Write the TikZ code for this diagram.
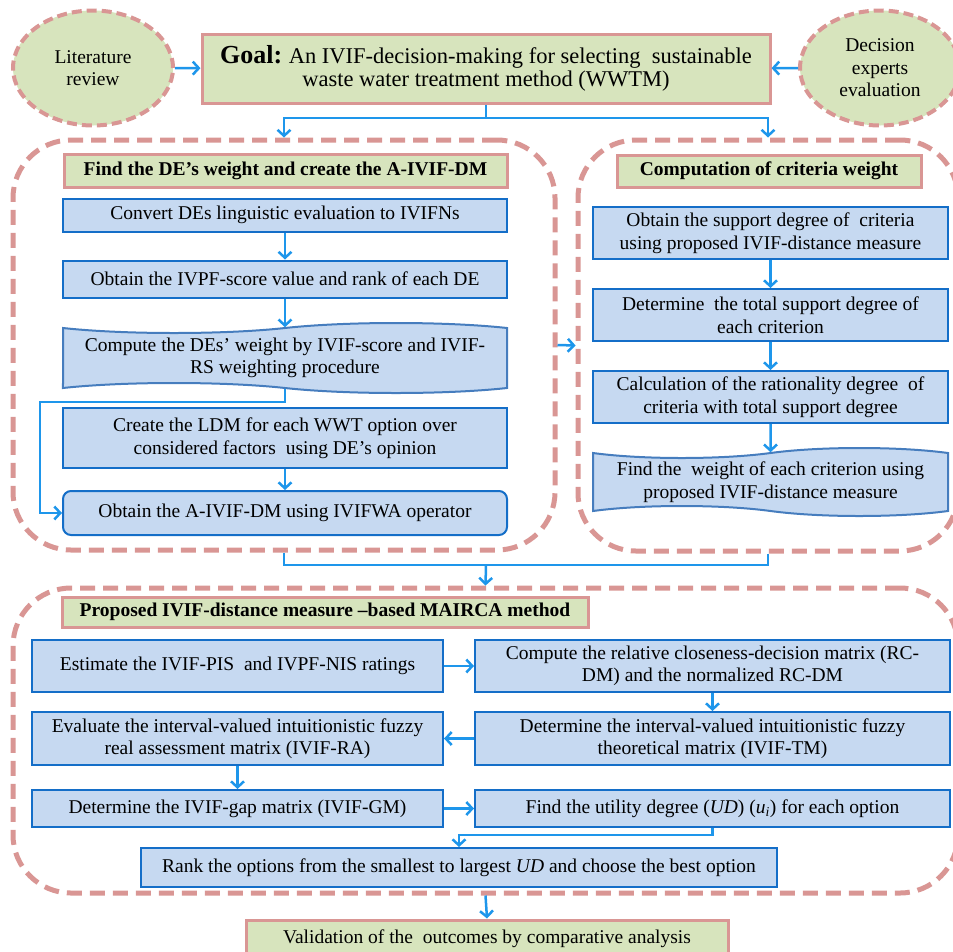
\documentclass[tikz,border=0pt]{standalone}
\usepackage{fontspec}
\setmainfont{Liberation Serif}
\usetikzlibrary{shapes,arrows.meta}

\definecolor{pinkline}{RGB}{217,150,148}
\definecolor{sage}{RGB}{215,228,189}
\definecolor{boxfill}{RGB}{198,217,241}
\definecolor{boxline}{RGB}{20,110,200}
\definecolor{tapeline}{RGB}{70,125,190}
\definecolor{arrowblue}{RGB}{30,150,235}

\begin{document}
\begin{tikzpicture}[x=1pt,y=-1pt]
\tikzset{
  every node/.style={font=\fontsize{19.5}{22.5}\selectfont,align=center,inner sep=0pt},
  goal/.style={draw=pinkline,fill=sage,line width=3pt},
  heading/.style={goal,font=\fontsize{19.5}{22.5}\selectfont\bfseries},
  source/.style={ellipse,draw=pinkline,fill=sage,line width=4pt,dash pattern=on 10pt off 5pt,
    minimum width=160pt,minimum height=115pt},
  group/.style={draw=pinkline,line width=5pt,dash pattern=on 15pt off 8pt,rounded corners=58pt},
  stepbox/.style={draw=boxline,fill=boxfill,line width=2pt},
  tapebox/.style={tape,stepbox,draw=tapeline,tape bend top=in and out,tape bend bottom=out and in,tape bend height=10pt},
  flow/.style={-{Straight Barb[length=6pt,width=13pt]},draw=arrowblue,line width=2.5pt},
  link/.style={draw=arrowblue,line width=2.5pt}
}
\useasboundingbox (0,0) rectangle (953,951);
\clip (0,0) rectangle (953,951);

%GOAL
\node[source] (LIT) at (93,68) {Literature\\review};
\node[goal,minimum width=568pt,minimum height=69pt] (GOAL) at (486,68.5)
  {{\fontsize{26}{28}\selectfont\bfseries Goal:} {\fontsize{22.5}{26}\selectfont An IVIF-decision-making for selecting\ \ sustainable}\\
   {\fontsize{22.5}{26}\selectfont waste water treatment method (WWTM)}};
\node[source] (DE) at (880,68) {Decision\\experts\\evaluation};

%GROUPS
\node[group,minimum width=542pt,minimum height=410pt] (LEFT) at (284,345) {};
\node[group,minimum width=380pt,minimum height=411pt] (RIGHT) at (768,345.5) {};
\node[group,minimum width=945pt,minimum height=305pt] (BOTTOM) at (485.5,740.5) {};

%DE WEIGHT
\node[heading,minimum width=443pt,minimum height=33pt] (LTITLE) at (285.5,170.5) {Find the DE’s weight and create the A-IVIF-DM};
\node[stepbox,minimum width=444pt,minimum height=33pt] (CONV) at (285,215) {Convert DEs linguistic evaluation to IVIFNs};
\node[stepbox,minimum width=444pt,minimum height=37pt] (SCORE) at (285,279) {Obtain the IVPF-score value and rank of each DE};
\node[tapebox,minimum width=444pt,minimum height=70pt] (DEW) at (285,358)
  {Compute the DEs’ weight by IVIF-score and IVIF-\\RS weighting procedure};
\node[stepbox,minimum width=444pt,minimum height=60pt] (LDM) at (285,438)
  {Create the LDM for each WWT option over\\considered factors\ \ using DE’s opinion};
\node[stepbox,rounded corners=8pt,minimum width=444pt,minimum height=44pt] (AGG) at (285,513)
  {Obtain the A-IVIF-DM using IVIFWA operator};

%CRITERIA WEIGHT
\node[heading,minimum width=304pt,minimum height=32pt] (RTITLE) at (769,171) {Computation of criteria weight};
\node[stepbox,minimum width=355pt,minimum height=52pt] (SUP) at (770.5,233)
  {Obtain the support degree of\ \ criteria\\using proposed IVIF-distance measure};
\node[stepbox,minimum width=355pt,minimum height=52pt] (TOT) at (770.5,315)
  {Determine\ \ the total support degree of\\each criterion};
\node[stepbox,minimum width=355pt,minimum height=52pt] (RAT) at (770.5,397)
  {Calculation of the rationality degree\ \ of\\criteria with total support degree};
\node[tapebox,minimum width=355pt,minimum height=68pt] (CW) at (770.5,482)
  {Find the\ \ weight of each criterion using\\proposed IVIF-distance measure};

%MAIRCA
\node[heading,minimum width=526pt,minimum height=30pt] (BTITLE) at (325,612) {Proposed IVIF-distance measure --based MAIRCA method};
\node[stepbox,minimum width=411pt,minimum height=52pt] (EST) at (237.5,666) {Estimate the IVIF-PIS\ \ and IVPF-NIS ratings};
\node[stepbox,minimum width=475pt,minimum height=52pt] (RC) at (712.5,666)
  {Compute the relative closeness-decision matrix (RC-\\DM) and the normalized RC-DM};
\node[stepbox,minimum width=411pt,minimum height=53pt] (REAL) at (237.5,738.5)
  {Evaluate the interval-valued intuitionistic fuzzy\\real assessment matrix (IVIF-RA)};
\node[stepbox,minimum width=475pt,minimum height=53pt] (THEO) at (712.5,738.5)
  {Determine the interval-valued intuitionistic fuzzy\\theoretical matrix (IVIF-TM)};
\node[stepbox,minimum width=411pt,minimum height=37pt] (GAP) at (237.5,808.5) {Determine the IVIF-gap matrix (IVIF-GM)};
\node[stepbox,minimum width=475pt,minimum height=37pt] (UTIL) at (712.5,808.5)
  {Find the utility degree (\textit{UD}) (\textit{u}\textsubscript{\textit{i}}) for each option};
\node[stepbox,minimum width=636pt,minimum height=39pt] (RANK) at (459,867.5)
  {Rank the options from the smallest to largest \textit{UD} and choose the best option};
\node[goal,minimum width=482pt,minimum height=38pt] (VALID) at (487,939) {Validation of the\ \ outcomes by comparative analysis};

%PATHS
\coordinate (split) at (486,118);
\coordinate (merge) at (486,565);
\coordinate (loop) at (40,402);
\draw[flow] (LIT) -- (GOAL);
\draw[flow] (DE) -- (GOAL);
\draw[link] (GOAL.south) -- (split);
\draw[flow] (split) -| (LEFT.north);
\draw[flow] (split) -| (RIGHT.north);
\draw[flow] (LEFT.east) -- (RIGHT.west);
\draw[flow] (CONV) -- (SCORE);
\draw[flow] (SCORE) -- (DEW);
\draw[flow] (DEW.south) |- (loop) |- (AGG.west);
\draw[flow] (LDM) -- (AGG);
\draw[flow] (SUP) -- (TOT);
\draw[flow] (TOT) -- (RAT);
\draw[flow] (RAT) -- (CW);
\draw[link] (LEFT.south) |- (merge);
\draw[link] (RIGHT.south) |- (merge);
\draw[flow] (merge) -- (BOTTOM.north);
\draw[flow] (EST) -- (RC);
\draw[flow] (RC) -- (THEO);
\draw[flow] (THEO) -- (REAL);
\draw[flow] (REAL) -- (GAP);
\draw[flow] (GAP) -- (UTIL);
\draw[flow] (UTIL.south) -- ++(0,7) -| (RANK.north);
\draw[flow] (BOTTOM.south) -- (VALID.north);
\end{tikzpicture}
\end{document}
